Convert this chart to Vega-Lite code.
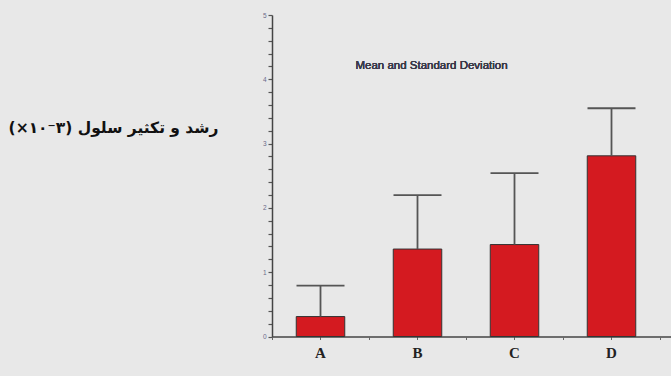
{
  "$schema": "https://vega.github.io/schema/vega-lite/v6.json",
  "autosize": "none",
  "width": 399,
  "height": 321.5,
  "padding": {"left": 272, "top": 15, "right": 0, "bottom": 39.5},
  "background": "#e8e8e8",
  "config": {"view": {"stroke": null}},
  "data": {"values": [
    {"group": "A", "mean": 0.31, "upper": 0.79},
    {"group": "B", "mean": 1.36, "upper": 2.2},
    {"group": "C", "mean": 1.43, "upper": 2.54},
    {"group": "D", "mean": 2.81, "upper": 3.55}
  ]},
  "encoding": {
    "x": {"field": "group", "type": "nominal",
          "scale": {"paddingInner": 0, "paddingOuter": 0.0567, "align": 0}},
    "y": {"type": "quantitative", "scale": {"domain": [0, 5], "nice": false}}
  },
  "layer": [
    {
      "mark": {"type": "bar", "color": "#d41a20", "stroke": "#333333", "strokeWidth": 1, "width": {"band": 0.5}},
      "encoding": {
        "x": {"field": "group", "type": "nominal",
              "axis": {"orient": "bottom", "title": null, "labelAngle": 0, "tickBand": "center",
                       "domainColor": "#444", "domainWidth": 1.5, "tickColor": "#666", "tickSize": 3,
                       "labelFont": "Liberation Serif", "labelFontWeight": "bold", "labelFontSize": 15,
                       "labelColor": "#222", "labelPadding": 6}},
        "y": {"field": "mean", "type": "quantitative",
              "axis": {"title": "رشد و تکثیر سلول (۳⁻۱۰×)", "titleAngle": 0, "titleAlign": "right",
                       "titleBaseline": "middle", "titleX": -54, "titleY": 112,
                       "titleFont": "DejaVu Sans", "titleFontWeight": "bold", "titleFontSize": 15.5, "titleColor": "#111",
                       "tickCount": 20,
                       "labelOverlap": false,
                       "labelExpr": "datum.value % 1 === 0 ? format(datum.value, 'd') : ''",
                       "ticks": true,
                       "tickSize": 4,
                       "tickWidth": 1.2,
                       "tickColor": "#555", "domainColor": "#444", "domainWidth": 1.5, "grid": false,
                       "labelFont": "Liberation Sans", "labelFontSize": 6.5, "labelColor": "#6a6a8a", "labelPadding": 2}}
      }
    },
    {
      "mark": {"type": "rule", "color": "#555555", "strokeWidth": 1.8},
      "encoding": {
        "x": {"field": "group", "type": "nominal", "axis": null},
        "y": {"field": "mean", "type": "quantitative"},
        "y2": {"field": "upper"}
      }
    },
    {
      "mark": {"type": "tick", "orient": "horizontal", "color": "#555555", "size": 48, "thickness": 1.8, "opacity": 1},
      "encoding": {
        "x": {"field": "group", "type": "nominal",
              "axis": {"orient": "bottom", "title": null, "labels": false, "domain": false, "tickBand": "extent",
                       "tickColor": "#666", "tickSize": 3}},
        "y": {"field": "upper", "type": "quantitative"}
      }
    },
    {
      "mark": {"type": "text", "text": "Mean and Standard Deviation", "font": "Liberation Sans",
               "fontSize": 11.5, "color": "#3a3a4a", "dx": 14, "baseline": "middle"},
      "encoding": {
        "x": {"datum": "B", "type": "nominal", "axis": null},
        "y": {"datum": 4.21, "type": "quantitative"}
      }
    }
  ],
  "resolve": {"axis": {"x": "independent"}}
}
